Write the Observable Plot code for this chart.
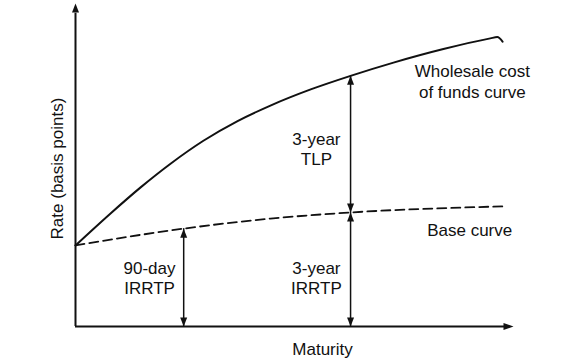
<!DOCTYPE html>
<html><head><meta charset="utf-8">
<script src="https://cdn.jsdelivr.net/npm/d3@7"></script>
<script src="https://cdn.jsdelivr.net/npm/@observablehq/plot@0.6"></script>
<style>body{margin:0;background:#fff}</style>
</head><body><div id="chart"></div>
<script>
// Wholesale cost of funds curve (abstract units: maturity 0-10, rate 0-100)
const maturity = [0, 0.80, 1.48, 2.17, 2.92, 3.70, 4.45, 5.37, 6.28, 7.26, 8.40, 9.47, 9.63, 9.75];
const wholesale = [25.1, 35.0, 43.0, 50.4, 57.5, 63.6, 68.4, 73.4, 77.6, 81.7, 85.9, 89.2, 89.6, 88.2];
// Base curve
const baseMaturity = [0, 2.47, 4.45, 6.28, 9.77];
const baseRate = [25.1, 30.3, 33.4, 35.3, 37.2];
// Double-headed measurement arrows
const arrowX = [2.47, 6.28, 6.28];
const arrowFrom = [0, 0, 35.3];
const arrowTo = [30.3, 35.3, 77.6];
// Labels
const labels = ["90-day\nIRRTP", "3-year\nIRRTP", "3-year\nTLP", "Wholesale cost\nof funds curve", "Base curve"];
const labelX = [1.69, 5.50, 5.50, 9.06, 9.0];
const labelY = [15.2, 15.2, 55.1, 76.0, 30.0];
const xTitle = "Maturity";
const yTitle = "Rate (basis points)";

const curve = maturity.map((m, i) => ({m, r: wholesale[i]}));
const base = baseMaturity.map((m, i) => ({m, r: baseRate[i]}));
const arrows = arrowX.map((x, i) => ({x, y1: arrowFrom[i], y2: arrowTo[i]}));
const lab = labels.map((t, i) => ({t, x: labelX[i], y: labelY[i]}));

const upHead = {draw(c){c.moveTo(0,0);c.lineTo(-3.5,9);c.lineTo(3.5,9);c.closePath();}};
const downHead = {draw(c){c.moveTo(0,0);c.lineTo(-3.5,-9);c.lineTo(3.5,-9);c.closePath();}};
const rightHead = {draw(c){c.moveTo(0,0);c.lineTo(-10,-3.5);c.lineTo(-10,3.5);c.closePath();}};

const font = "'Liberation Sans', Arial, Helvetica, sans-serif";

const chart = Plot.plot({
  width: 580, height: 358,
  marginLeft: 75, marginRight: 67, marginTop: 3, marginBottom: 32,
  x: {domain: [0, 10], axis: null},
  y: {domain: [0, 100], axis: null},
  style: {fontFamily: font, background: "#fff", overflow: "visible"},
  marks: [
    // axes
    Plot.ruleY([0], {x1: 0, x2: 9.8, stroke: "#111", strokeWidth: 2}),
    Plot.ruleX([0], {y1: 0, y2: 97, stroke: "#111", strokeWidth: 2}),
    Plot.dot([{x: 10, y: 0}], {x: "x", y: "y", symbol: rightHead, r: 4, fill: "#111", stroke: "none"}),
    Plot.dot([{x: 0, y: 100}], {x: "x", y: "y", symbol: upHead, r: 4, fill: "#111", stroke: "none"}),
    // curves
    Plot.line(curve, {x: "m", y: "r", curve: "monotone-x", stroke: "#111", strokeWidth: 2}),
    Plot.line(base, {x: "m", y: "r", curve: "monotone-x", stroke: "#111", strokeWidth: 1.8, strokeDasharray: "9,5"}),
    // arrows
    Plot.ruleX(arrows, {x: "x", y1: "y1", y2: "y2", stroke: "#111", strokeWidth: 1.5}),
    Plot.dot(arrows, {x: "x", y: "y2", symbol: upHead, r: 4, fill: "#111", stroke: "none"}),
    Plot.dot(arrows, {x: "x", y: "y1", symbol: downHead, r: 4, fill: "#111", stroke: "none"}),
    // labels
    Plot.text(lab, {x: "x", y: "y", text: "t", fontSize: 17, lineHeight: 1.2, fill: "#111", textAnchor: "middle"}),
    Plot.text([xTitle], {x: 5.64, y: -7.1, text: d => d, fontSize: 17, fill: "#111"}),
    Plot.text([yTitle], {x: -0.41, y: 48.9, text: d => d, fontSize: 17, fill: "#111", rotate: -90})
  ]
});
document.getElementById("chart").appendChild(chart);
</script>
</body></html>
